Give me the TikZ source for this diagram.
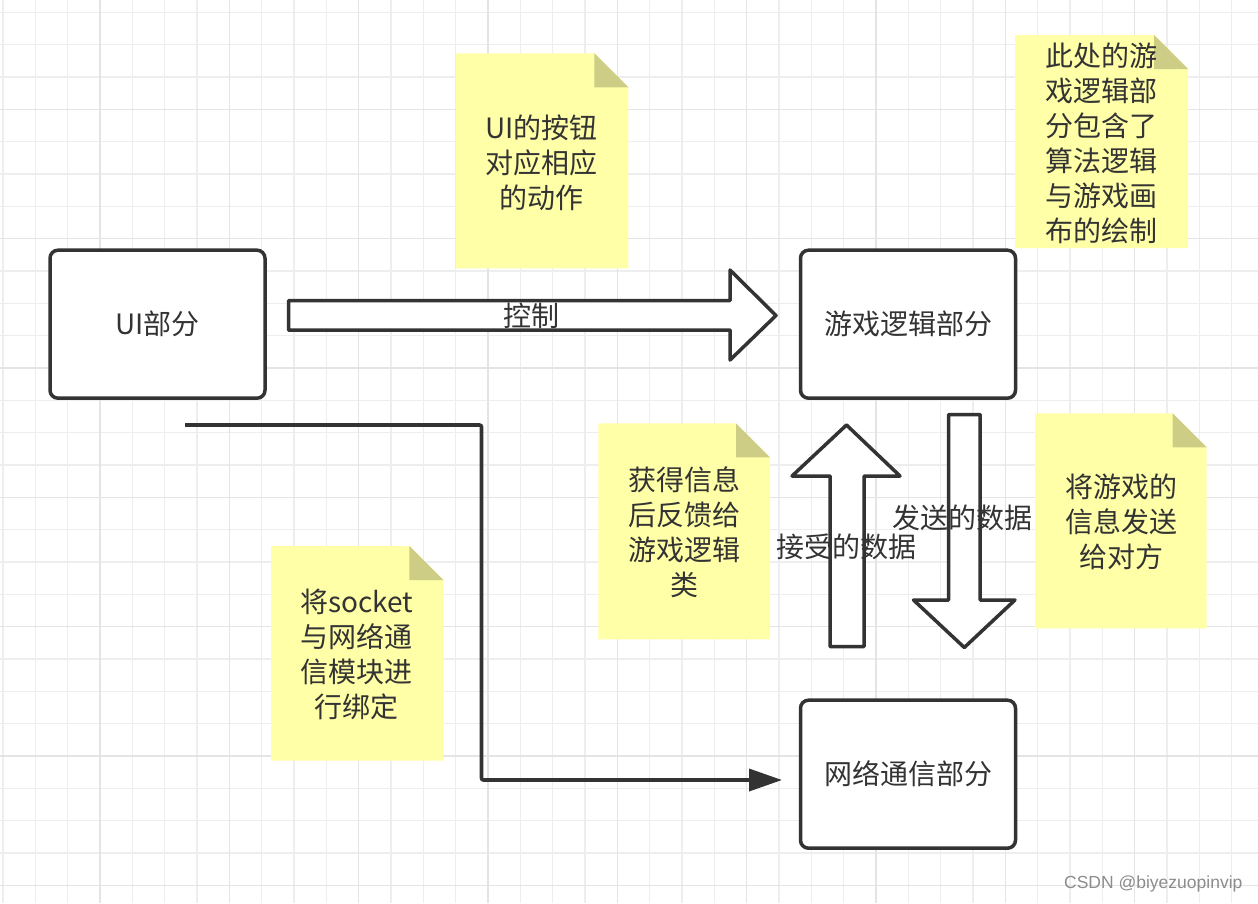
\documentclass[tikz,border=0pt]{standalone}
\usepackage{fontspec}
\setmainfont{Noto Sans CJK SC}
\newfontfamily\wmfont{Liberation Sans}
\usetikzlibrary{arrows.meta}
\definecolor{ink}{HTML}{333333}
\definecolor{notefill}{HTML}{FFFFA8}
\definecolor{notefold}{HTML}{CDCD85}
\definecolor{gridminor}{HTML}{EEEEEE}
\definecolor{gridmajor}{HTML}{E4E4E4}
\definecolor{wmgray}{HTML}{8C8C8C}
\newcommand{\notepaper}[4]{%
  \fill[notefill] (#1,#2) -- ({#3-34},#2) -- (#3,{#2+34}) -- (#3,#4) -- (#1,#4) -- cycle;
  \fill[notefold] ({#3-34},#2) -- ({#3-34},{#2+34}) -- (#3,{#2+34}) -- cycle;}
\begin{document}
\begin{tikzpicture}[x=1pt,y=-1pt,
  box/.style={draw=ink, line width=3.5pt, rounded corners=8pt, fill=white,
    minimum width=215pt, minimum height=148pt, inner sep=0pt,
    text=ink, font=\fontsize{28}{35}\selectfont},
  blockarrow/.style={draw=ink, line width=3.5pt, fill=white, line join=round},
  lbl/.style={text=ink, font=\fontsize{28}{35}\selectfont, inner sep=0pt},
  notetext/.style={text=ink, font=\fontsize{28}{35}\selectfont, align=center, inner sep=0pt},
  conn/.style={draw=ink, line width=3.6pt, rounded corners=2pt,
    -{Triangle[length=33pt,width=22pt]}},
  minorline/.style={draw=gridminor, line width=1.1pt},
  majorline/.style={draw=gridmajor, line width=1.4pt},
  wmtext/.style={text=wmgray, font=\wmfont\fontsize{17.5}{20}\selectfont, inner sep=0pt}]
\useasboundingbox (0,0) rectangle (1258,903);
\fill[white] (0,0) rectangle (1258,903);
% grid
\foreach \i in {0,...,38} \draw[minorline] ({3+32.333*\i},0) -- ({3+32.333*\i},903);
\foreach \j in {0,...,27} \draw[minorline] (0,{12.3+32.333*\j}) -- (1258,{12.3+32.333*\j});
\foreach \i in {3,7,...,35} \draw[majorline] ({3+32.333*\i},0) -- ({3+32.333*\i},903);
\foreach \j in {3,7,...,27} \draw[majorline] (0,{12.3+32.333*\j}) -- (1258,{12.3+32.333*\j});
% notes
\notepaper{456}{53.3}{628.3}{268.3}
\node[notetext] (n1) at (541.7,162.4) {UI的按钮\\对应相应\\的动作};
\notepaper{1015}{35}{1188}{248}
\node[notetext] (n2) at (1101.7,143.3) {此处的游\\戏逻辑部\\分包含了\\算法逻辑\\与游戏画\\布的绘制};
\notepaper{598.3}{423.3}{770}{639.3}
\node[notetext] (n3) at (684.3,532.5) {获得信息\\后反馈给\\游戏逻辑\\类};
\notepaper{1035}{413.3}{1206.7}{628.3}
\node[notetext] (n4) at (1121,521.7) {将游戏的\\信息发送\\给对方};
\notepaper{271}{546}{443.3}{760.7}
\node[notetext] (n5) at (356.7,654.2) {将socket\\与网络通\\信模块进\\行绑定};
% boxes
\node[box] (ui) at (157.5,324.2) {UI部分};
\node[box] (game) at (908,324.2) {游戏逻辑部分};
\node[box] (net) at (908,774.2) {网络通信部分};
% control arrow
\draw[blockarrow] (288.5,300.7) -- (730,300.7) -- (730,270) -- (776,315.5)
  -- (730,360) -- (730,330) -- (288.5,330) -- cycle;
\node[lbl] (ctl) at (531,316) {控制};
% receive arrow (up)
\draw[blockarrow] (846.5,425) -- (900,476) -- (864,476) -- (864,646.5)
  -- (830,646.5) -- (830,476) -- (792,476) -- cycle;
\node[lbl] (recv) at (846.5,547) {接受的数据};
% send arrow (down)
\draw[blockarrow] (948.5,414.5) -- (980,414.5) -- (980,600) -- (1015,600)
  -- (964.3,647.5) -- (913.5,600) -- (948.5,600) -- cycle;
\node[lbl] (send) at (962.5,518.3) {发送的数据};
% connector
\coordinate (cs) at (185,425);
\coordinate (cb) at (481.5,425);
\coordinate (ce) at (782,780);
\draw[conn] (cs) -- (cb) |- (ce);
% watermark
\node[wmtext] (wmk) at (1153.3,884) {CSDN @biyezuopinvip};
\end{tikzpicture}
\end{document}
